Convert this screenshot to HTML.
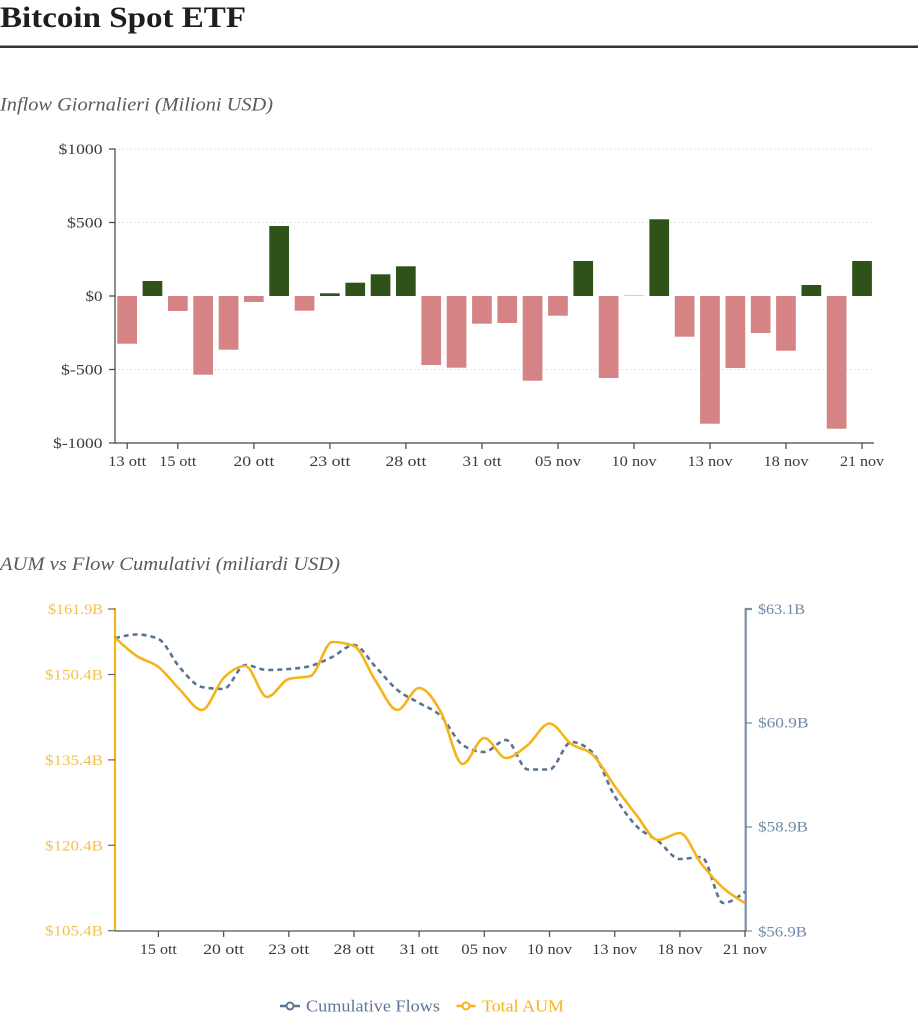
<!DOCTYPE html>
<html>
<head>
<meta charset="utf-8">
<style>
html,body{margin:0;padding:0;background:#fff;}
svg{display:block;}
text{font-family:"Liberation Serif",serif;}
</style>
</head>
<body>
<svg width="918" height="1024" viewBox="0 0 918 1024" xmlns="http://www.w3.org/2000/svg">
<rect width="918" height="1024" fill="#fff"/>
<!-- Title -->
<text x="0" y="27" font-size="30" font-weight="bold" fill="#1e1e1e" textLength="246" lengthAdjust="spacingAndGlyphs">Bitcoin Spot ETF</text>
<rect x="0" y="45.5" width="918" height="2.5" fill="#333"/>

<!-- Subtitle 1 -->
<text x="0" y="110.5" font-size="19" font-style="italic" fill="#5a5a5a" textLength="273" lengthAdjust="spacingAndGlyphs">Inflow Giornalieri (Milioni USD)</text>

<!-- Bar chart gridlines -->
<g stroke="#e6e6e6" stroke-width="1" stroke-dasharray="2,2">
<line x1="118" y1="149" x2="874" y2="149"/>
<line x1="118" y1="222.5" x2="874" y2="222.5"/>
<line x1="118" y1="369.5" x2="874" y2="369.5"/>
</g>

<!-- Bars -->
<g fill="#d58384">
<rect x="117.3" y="296" width="19.7" height="47.7"/>
<rect x="168.0" y="296" width="19.7" height="15"/>
<rect x="193.3" y="296" width="19.7" height="78.7"/>
<rect x="218.7" y="296" width="19.7" height="53.7"/>
<rect x="244.0" y="296" width="19.7" height="6"/>
<rect x="294.7" y="296" width="19.7" height="14.7"/>
<rect x="421.4" y="296" width="19.7" height="69"/>
<rect x="446.7" y="296" width="19.7" height="71.7"/>
<rect x="472.1" y="296" width="19.7" height="27.7"/>
<rect x="497.4" y="296" width="19.7" height="27"/>
<rect x="522.7" y="296" width="19.7" height="84.7"/>
<rect x="548.1" y="296" width="19.7" height="19.7"/>
<rect x="598.8" y="296" width="19.7" height="82"/>
<rect x="674.8" y="296" width="19.7" height="40.7"/>
<rect x="700.1" y="296" width="19.7" height="127.7"/>
<rect x="725.5" y="296" width="19.7" height="72"/>
<rect x="750.8" y="296" width="19.7" height="37"/>
<rect x="776.1" y="296" width="19.7" height="54.7"/>
<rect x="826.8" y="296" width="19.7" height="132.7"/>
</g>
<g fill="#2e5218">
<rect x="142.6" y="281" width="19.7" height="15"/>
<rect x="269.3" y="226" width="19.7" height="70"/>
<rect x="320.0" y="293.3" width="19.7" height="2.7"/>
<rect x="345.4" y="282.7" width="19.7" height="13.3"/>
<rect x="370.7" y="274.3" width="19.7" height="21.7"/>
<rect x="396.0" y="266.3" width="19.7" height="29.7"/>
<rect x="573.4" y="261" width="19.7" height="35"/>
<rect x="649.4" y="219.3" width="19.7" height="76.7"/>
<rect x="801.5" y="285" width="19.7" height="11"/>
<rect x="852.2" y="261" width="19.7" height="35"/>
</g>
<rect x="624.1" y="295" width="19.7" height="1" fill="#cfcfcf"/>

<!-- Bar chart axes -->
<g stroke="#444" stroke-width="1.2" fill="none">
<path d="M109,149H115V443H109"/>
<line x1="109" y1="222.5" x2="115" y2="222.5"/>
<line x1="109" y1="296" x2="115" y2="296"/>
<line x1="109" y1="369.5" x2="115" y2="369.5"/>
<line x1="115" y1="443" x2="874" y2="443"/>
<line x1="127.2" y1="443" x2="127.2" y2="449"/>
<line x1="177.8" y1="443" x2="177.8" y2="449"/>
<line x1="253.9" y1="443" x2="253.9" y2="449"/>
<line x1="329.9" y1="443" x2="329.9" y2="449"/>
<line x1="405.9" y1="443" x2="405.9" y2="449"/>
<line x1="482" y1="443" x2="482" y2="449"/>
<line x1="558" y1="443" x2="558" y2="449"/>
<line x1="634" y1="443" x2="634" y2="449"/>
<line x1="710" y1="443" x2="710" y2="449"/>
<line x1="786" y1="443" x2="786" y2="449"/>
<line x1="862" y1="443" x2="862" y2="449"/>
</g>
<g font-size="15" fill="#3a3a3a" text-anchor="end">
<text x="102.5" y="154" textLength="44" lengthAdjust="spacingAndGlyphs">$1000</text>
<text x="102.5" y="227.5" textLength="35.5" lengthAdjust="spacingAndGlyphs">$500</text>
<text x="102.5" y="301" textLength="17" lengthAdjust="spacingAndGlyphs">$0</text>
<text x="102.5" y="374.5" textLength="41.5" lengthAdjust="spacingAndGlyphs">$-500</text>
<text x="102.5" y="448" textLength="49.5" lengthAdjust="spacingAndGlyphs">$-1000</text>
</g>
<g font-size="15" fill="#3a3a3a" text-anchor="middle">
<text x="127.2" y="466" textLength="38" lengthAdjust="spacingAndGlyphs">13 ott</text>
<text x="177.8" y="466" textLength="37" lengthAdjust="spacingAndGlyphs">15 ott</text>
<text x="253.9" y="466" textLength="41" lengthAdjust="spacingAndGlyphs">20 ott</text>
<text x="329.9" y="466" textLength="41" lengthAdjust="spacingAndGlyphs">23 ott</text>
<text x="405.9" y="466" textLength="41" lengthAdjust="spacingAndGlyphs">28 ott</text>
<text x="482" y="466" textLength="39" lengthAdjust="spacingAndGlyphs">31 ott</text>
<text x="558" y="466" textLength="46" lengthAdjust="spacingAndGlyphs">05 nov</text>
<text x="634" y="466" textLength="45" lengthAdjust="spacingAndGlyphs">10 nov</text>
<text x="710" y="466" textLength="45" lengthAdjust="spacingAndGlyphs">13 nov</text>
<text x="786" y="466" textLength="45" lengthAdjust="spacingAndGlyphs">18 nov</text>
<text x="862" y="466" textLength="44" lengthAdjust="spacingAndGlyphs">21 nov</text>
</g>

<!-- Subtitle 2 -->
<text x="0" y="570" font-size="19" font-style="italic" fill="#5a5a5a" textLength="340" lengthAdjust="spacingAndGlyphs">AUM vs Flow Cumulativi (miliardi USD)</text>

<!-- Line chart axes -->
<line x1="115" y1="608" x2="115" y2="931" stroke="#f4b41a" stroke-width="2.2"/>
<g stroke="#666" stroke-width="1.2">
<line x1="108" y1="609" x2="115" y2="609"/>
<line x1="108" y1="674.5" x2="115" y2="674.5"/>
<line x1="108" y1="759.9" x2="115" y2="759.9"/>
<line x1="108" y1="845.3" x2="115" y2="845.3"/>
<line x1="108" y1="930.7" x2="115" y2="930.7"/>
</g>
<g font-size="15" fill="#f3c04c" text-anchor="end">
<text x="103" y="614" textLength="55" lengthAdjust="spacingAndGlyphs">$161.9B</text>
<text x="103" y="679.5" textLength="58" lengthAdjust="spacingAndGlyphs">$150.4B</text>
<text x="103" y="765" textLength="58" lengthAdjust="spacingAndGlyphs">$135.4B</text>
<text x="103" y="850.3" textLength="58" lengthAdjust="spacingAndGlyphs">$120.4B</text>
<text x="103" y="935.7" textLength="58" lengthAdjust="spacingAndGlyphs">$105.4B</text>
</g>
<g stroke="#7a8ea9" stroke-width="2.2" fill="none">
<path d="M752,609H745.7V931.5"/>
</g>
<g stroke="#7a8ea9" stroke-width="1.2">
<line x1="745.7" y1="723" x2="752" y2="723"/>
<line x1="745.7" y1="827" x2="752" y2="827"/>
<line x1="745.7" y1="931" x2="752" y2="931"/>
</g>
<g font-size="15" fill="#7189a6" text-anchor="start">
<text x="758" y="614" textLength="47" lengthAdjust="spacingAndGlyphs">$63.1B</text>
<text x="758" y="727.5" textLength="50.5" lengthAdjust="spacingAndGlyphs">$60.9B</text>
<text x="758" y="831.5" textLength="50" lengthAdjust="spacingAndGlyphs">$58.9B</text>
<text x="758" y="936.5" textLength="49" lengthAdjust="spacingAndGlyphs">$56.9B</text>
</g>
<g stroke="#555" stroke-width="1.3">
<line x1="115" y1="931" x2="745.7" y2="931"/>
<line x1="158.4" y1="931" x2="158.4" y2="937"/>
<line x1="223.6" y1="931" x2="223.6" y2="937"/>
<line x1="288.8" y1="931" x2="288.8" y2="937"/>
<line x1="354" y1="931" x2="354" y2="937"/>
<line x1="419.1" y1="931" x2="419.1" y2="937"/>
<line x1="484.3" y1="931" x2="484.3" y2="937"/>
<line x1="549.5" y1="931" x2="549.5" y2="937"/>
<line x1="614.7" y1="931" x2="614.7" y2="937"/>
<line x1="679.9" y1="931" x2="679.9" y2="937"/>
<line x1="745" y1="931" x2="745" y2="937"/>
</g>
<g font-size="15" fill="#3a3a3a" text-anchor="middle">
<text x="158.4" y="954" textLength="37" lengthAdjust="spacingAndGlyphs">15 ott</text>
<text x="223.6" y="954" textLength="41" lengthAdjust="spacingAndGlyphs">20 ott</text>
<text x="288.8" y="954" textLength="41" lengthAdjust="spacingAndGlyphs">23 ott</text>
<text x="354" y="954" textLength="41" lengthAdjust="spacingAndGlyphs">28 ott</text>
<text x="419.1" y="954" textLength="39" lengthAdjust="spacingAndGlyphs">31 ott</text>
<text x="484.3" y="954" textLength="46" lengthAdjust="spacingAndGlyphs">05 nov</text>
<text x="549.5" y="954" textLength="45" lengthAdjust="spacingAndGlyphs">10 nov</text>
<text x="614.7" y="954" textLength="45" lengthAdjust="spacingAndGlyphs">13 nov</text>
<text x="679.9" y="954" textLength="45" lengthAdjust="spacingAndGlyphs">18 nov</text>
<text x="745" y="954" textLength="44" lengthAdjust="spacingAndGlyphs">21 nov</text>
</g>

<!-- Lines -->
<path id="flows" fill="none" stroke="#5b7391" stroke-width="2.6" stroke-dasharray="5,4" d=""/>
<path id="aum" fill="none" stroke="#f4b41a" stroke-width="2.6" d=""/>

<!-- Legend -->
<line x1="280" y1="1006" x2="300" y2="1006" stroke="#5f7594" stroke-width="2.5"/>
<circle cx="290" cy="1006" r="3.5" fill="#fff" stroke="#5f7594" stroke-width="2"/>
<text x="306" y="1011.5" font-size="17" fill="#5f7594" textLength="134" lengthAdjust="spacingAndGlyphs">Cumulative Flows</text>
<line x1="456.5" y1="1006" x2="475.5" y2="1006" stroke="#f4b41a" stroke-width="2.5"/>
<circle cx="466" cy="1006" r="3.5" fill="#fff" stroke="#f4b41a" stroke-width="2"/>
<text x="482" y="1011.5" font-size="17" fill="#f4b41a" textLength="82" lengthAdjust="spacingAndGlyphs">Total AUM</text>
</svg>
<script>
(function(){
var aum=[637.7,656,667,690,710,678,666,697,679,676,642,646,681,710,688,712,764,738,758,745,723.5,744,755,786,815,840,833,864,888,903];
var fl=[638.3,634.5,639,668,687,689,665,670,669,666,657,645,667,690,703,716,745,752,740,769.5,769.5,742,753,796,826,841,859,857,903,891.7];
function xs(i){return 115+i*21.724;}
function sign(v){return v<0?-1:1;}
function mono(ys){
  var n=ys.length,h=21.724,s=[],t=[],i;
  for(i=0;i<n-1;i++)s.push((ys[i+1]-ys[i])/h);
  for(i=1;i<n-1;i++){
    var s0=s[i-1],s1=s[i],p=(s0+s1)/2;
    t[i]=(sign(s0)+sign(s1))*Math.min(Math.abs(s0),Math.abs(s1),0.5*Math.abs(p))||0;
  }
  t[0]=(3*s[0]-t[1])/2;
  t[n-1]=(3*s[n-2]-t[n-2])/2;
  var d="M"+xs(0)+","+ys[0],dx=h/3;
  for(i=0;i<n-1;i++){
    var x0=xs(i),x1=xs(i+1);
    d+="C"+(x0+dx).toFixed(2)+","+(ys[i]+dx*t[i]).toFixed(2)+","+(x1-dx).toFixed(2)+","+(ys[i+1]-dx*t[i+1]).toFixed(2)+","+x1.toFixed(2)+","+ys[i+1];
  }
  return d;
}
document.getElementById("aum").setAttribute("d",mono(aum));
document.getElementById("flows").setAttribute("d",mono(fl));
})();
</script>
</body>
</html>
